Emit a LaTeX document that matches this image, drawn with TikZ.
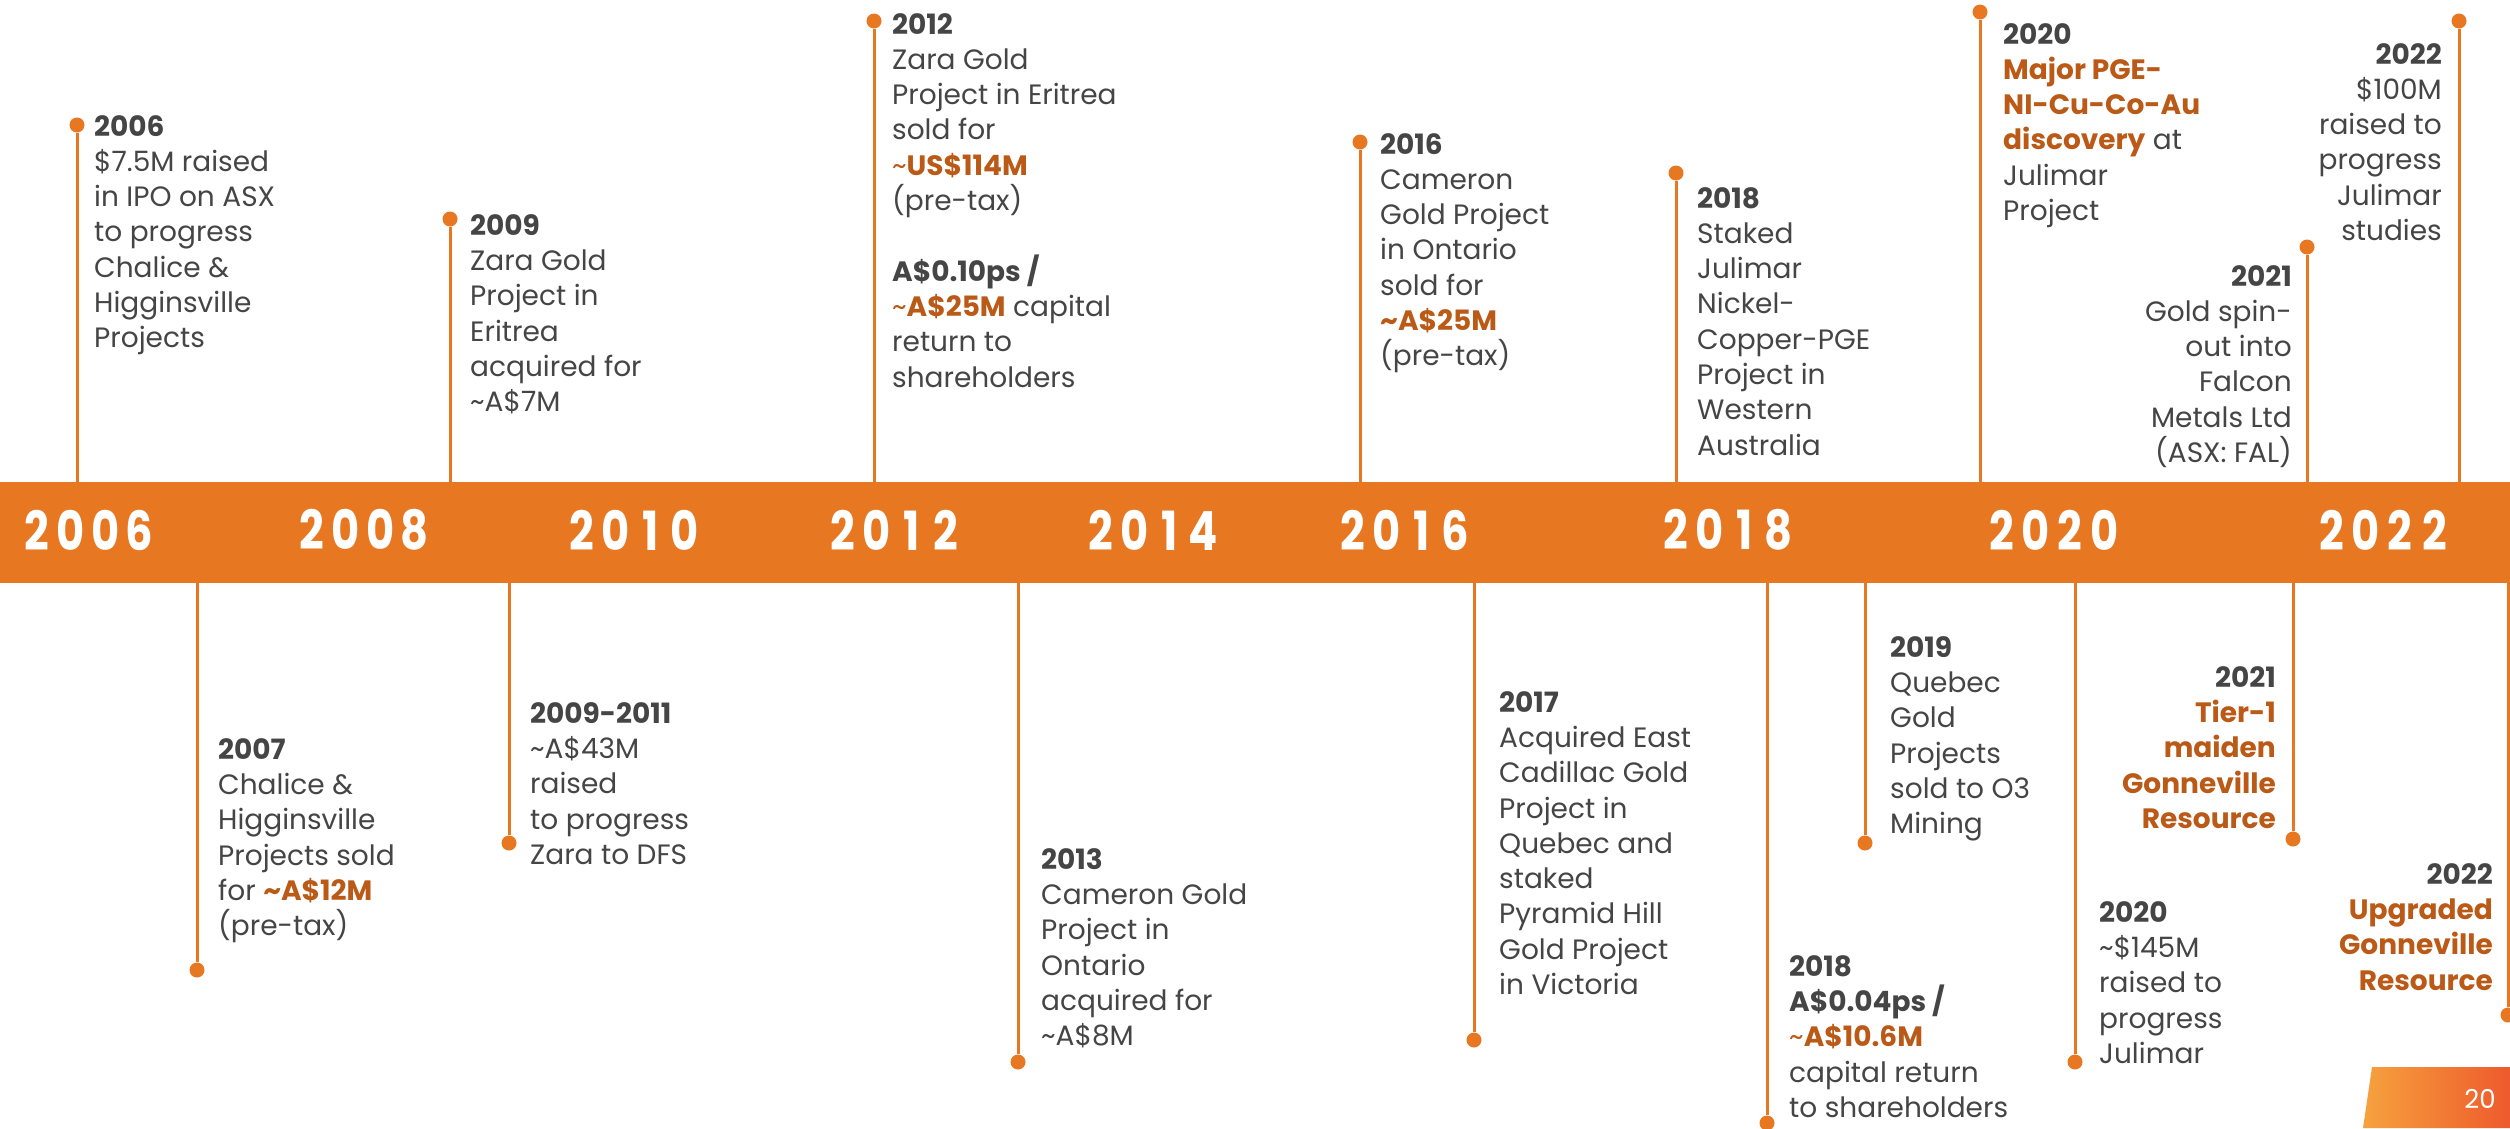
\documentclass[tikz,border=0pt]{standalone}
\usepackage{fontspec}
\setmainfont{Poppins}
\newfontfamily\yearfont[FakeStretch=0.8]{Poppins}
\definecolor{bandc}{HTML}{E87722}
\definecolor{hlc}{HTML}{BB5A17}
\definecolor{txtc}{HTML}{454545}
\definecolor{pgA}{HTML}{F6A23E}
\definecolor{pgB}{HTML}{EE5A2C}
\newcommand\hl[1]{\textbf{\color{hlc}#1}}
\newcommand\tl{\textasciitilde}
\newcommand\yd[1]{\makebox[34.4pt]{#1}}
\tikzset{
  evline/.style={draw=bandc, line width=3pt},
  evdot/.style={circle, fill=bandc, minimum size=15pt, inner sep=0pt},
  evtext/.style={font=\fontsize{28}{35.3}\selectfont, text=txtc, inner sep=0pt, align=left},
  evtextr/.style={evtext, align=right},
  yearlbl/.style={font=\yearfont\bfseries\fontsize{54}{54}\selectfont, text=white, inner sep=0pt}
}
\begin{document}
\begin{tikzpicture}[x=1pt,y=-1pt]
\fill[white] (0,0) rectangle (2510,1128);
\path[use as bounding box] (0,0) rectangle (2510,1128);

% band
\fill[bandc] (0,482) rectangle (2510,583);
\node[yearlbl] (y2006) at (88,530) {\yd2\yd0\yd0\yd6};
\node[yearlbl] (y2008) at (363,530) {\yd2\yd0\yd0\yd8};
\node[yearlbl] (y2010) at (633,530) {\yd2\yd0\yd1\yd0};
\node[yearlbl] (y2012) at (894,530) {\yd2\yd0\yd1\yd2};
\node[yearlbl] (y2014) at (1152,530) {\yd2\yd0\yd1\yd4};
\node[yearlbl] (y2016) at (1404,530) {\yd2\yd0\yd1\yd6};
\node[yearlbl] (y2018) at (1727,530) {\yd2\yd0\yd1\yd8};
\node[yearlbl] (y2020) at (2053,530) {\yd2\yd0\yd2\yd0};
\node[yearlbl] (y2022) at (2383,530) {\yd2\yd0\yd2\yd2};

% ---------- above ----------
\node[evdot] (d1) at (77,125) {};
\coordinate (b1) at (77,482);
\draw[evline] (d1) -- (b1);
\node[evtext, anchor=north west] (t1) at (94,115) {\textbf{2006}\\\$7.5M raised\\in IPO on ASX\\to progress\\Chalice \&\\Higginsville\\Projects};

\node[evdot] (d2) at (450,219) {};
\coordinate (b2) at (450,482);
\draw[evline] (d2) -- (b2);
\node[evtext, anchor=north west] (t2) at (470,214) {\textbf{2009}\\Zara Gold\\Project in\\Eritrea\\acquired for\\\tl A\$7M};

\node[evdot] (d3) at (874,21) {};
\coordinate (b3) at (874,482);
\draw[evline] (d3) -- (b3);
\node[evtext, anchor=north west] (t3) at (892,13) {\textbf{2012}\\Zara Gold\\Project in Eritrea\\sold for\\{\color{hlc}\tl}\hl{US\$114M}\\(pre-tax)\\[35.3pt]\textbf{A\$0.10ps /}\\{\color{hlc}\tl}\hl{A\$25M} capital\\return to\\shareholders};

\node[evdot] (d4) at (1360,142) {};
\coordinate (b4) at (1360,482);
\draw[evline] (d4) -- (b4);
\node[evtext, anchor=north west] (t4) at (1380,133) {\textbf{2016}\\Cameron\\Gold Project\\in Ontario\\sold for\\\hl{\tl A\$25M}\\(pre-tax)};

\node[evdot] (d5) at (1676,173) {};
\coordinate (b5) at (1676,482);
\draw[evline] (d5) -- (b5);
\node[evtext, anchor=north west] (t5) at (1697,187) {\textbf{2018}\\Staked\\Julimar\\Nickel-\\Copper-PGE\\Project in\\Western\\Australia};

\node[evdot] (d6) at (1980,12) {};
\coordinate (b6) at (1980,482);
\draw[evline] (d6) -- (b6);
\node[evtext, anchor=north west] (t6) at (2003,23) {\textbf{2020}\\\hl{Major PGE-}\\\hl{NI-Cu-Co-Au}\\\hl{discovery} at\\Julimar\\Project};

\node[evdot] (d7) at (2307,247) {};
\coordinate (b7) at (2307,482);
\draw[evline] (d7) -- (b7);
\node[evtextr, anchor=north east] (t7) at (2292,265) {\textbf{2021}\\Gold spin-\\out into\\Falcon\\Metals Ltd\\(ASX: FAL)};

\node[evdot] (d8) at (2459,21) {};
\coordinate (b8) at (2459,482);
\draw[evline] (d8) -- (b8);
\node[evtextr, anchor=north east] (t8) at (2442,43) {\textbf{2022}\\\$100M\\raised to\\progress\\Julimar\\studies};

% ---------- below ----------
\coordinate (b9) at (197,583);
\node[evdot] (d9) at (197,970) {};
\draw[evline] (b9) -- (d9);
\node[evtext, anchor=north west] (t9) at (218,738) {\textbf{2007}\\Chalice \&\\Higginsville\\Projects sold\\for \hl{\tl A\$12M}\\(pre-tax)};

\coordinate (b10) at (509,583);
\node[evdot] (d10) at (509,843) {};
\draw[evline] (b10) -- (d10);
\node[evtext, anchor=north west] (t10) at (530,702) {\textbf{2009-2011}\\\tl A\$43M\\raised\\to progress\\Zara to DFS};

\coordinate (b11) at (1018,583);
\node[evdot] (d11) at (1018,1062) {};
\draw[evline] (b11) -- (d11);
\node[evtext, anchor=north west] (t11) at (1041,848) {\textbf{2013}\\Cameron Gold\\Project in\\Ontario\\acquired for\\\tl A\$8M};

\coordinate (b12) at (1474,583);
\node[evdot] (d12) at (1474,1040) {};
\draw[evline] (b12) -- (d12);
\node[evtext, anchor=north west] (t12) at (1499,691) {\textbf{2017}\\Acquired East\\Cadillac Gold\\Project in\\Quebec and\\staked\\Pyramid Hill\\Gold Project\\in Victoria};

\coordinate (b13) at (1767,583);
\node[evdot] (d13) at (1767,1123) {};
\draw[evline] (b13) -- (d13);
\node[evtext, anchor=north west] (t13) at (1789,955) {\textbf{2018}\\\textbf{A\$0.04ps /}\\{\color{hlc}\tl}\hl{A\$10.6M}\\capital return\\to shareholders};

\coordinate (b14) at (1865,583);
\node[evdot] (d14) at (1865,843) {};
\draw[evline] (b14) -- (d14);
\node[evtext, anchor=north west] (t14) at (1890,636) {\textbf{2019}\\Quebec\\Gold\\Projects\\sold to O3\\Mining};

\coordinate (b15) at (2075,583);
\node[evdot] (d15) at (2075,1062) {};
\draw[evline] (b15) -- (d15);
\node[evtext, anchor=north west] (t15) at (2099,901) {\textbf{2020}\\\tl\$145M\\raised to\\progress\\Julimar};

\coordinate (b16) at (2293,583);
\node[evdot] (d16) at (2293,839) {};
\draw[evline] (b16) -- (d16);
\node[evtextr, anchor=north east] (t16) at (2276,666) {\textbf{2021}\\\hl{Tier-1}\\\hl{maiden}\\\hl{Gonneville}\\\hl{Resource}};

\coordinate (b17) at (2508,583);
\node[evdot] (d17) at (2508,1015) {};
\draw[evline] (b17) -- (d17);
\node[evtextr, anchor=north east] (t17) at (2493,863) {\textbf{2022}\\\hl{Upgraded}\\\hl{Gonneville}\\\hl{Resource}};

% page number
\shade[left color=pgA, right color=pgB] (2372,1067) -- (2510,1067) -- (2510,1128) -- (2363,1128) -- cycle;
\node[font=\fontsize{26}{26}\selectfont, text=white, inner sep=0pt] (pnum) at (2480,1099) {20};
\end{tikzpicture}
\end{document}
